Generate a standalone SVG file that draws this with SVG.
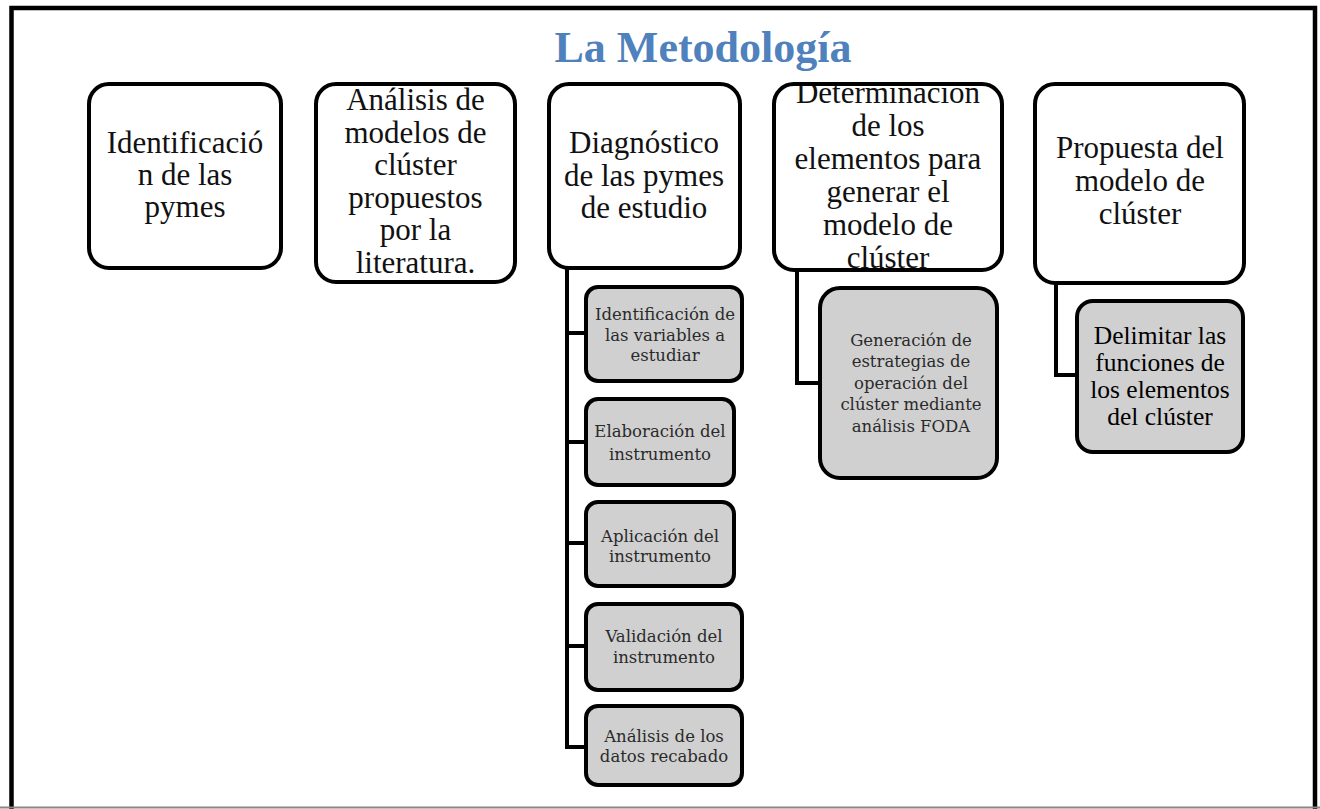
<svg xmlns="http://www.w3.org/2000/svg" width="1320" height="809" viewBox="0 0 1320 809">
<style>
.main{fill:#fff;stroke:#000;stroke-width:4}
.sub{fill:#d0d0d0;stroke:#000;stroke-width:4}
.t{font-family:"Liberation Serif","Times New Roman",serif;font-size:31px;fill:#111;text-anchor:middle}
.s{font-family:"DejaVu Serif",serif;font-size:16.5px;fill:#2a2a2a;text-anchor:middle}
.d{font-family:"Liberation Serif","Times New Roman",serif;font-size:25.5px;fill:#000;text-anchor:middle}
.c{fill:none;stroke:#000;stroke-width:4}
</style>
<defs>
<clipPath id="clip4"><rect x="776" y="86" width="224" height="182"/></clipPath>
</defs>
<rect width="1320" height="809" fill="#fff"/>
<g id="frame">
<path d="M11.5 809 V8 H1315 V809" fill="none" stroke="#000" stroke-width="4.5"/>
<line x1="0" y1="807.5" x2="1320" y2="807.5" stroke="#888" stroke-width="2"/>
</g>
<g id="title">
<text x="703" y="62" font-family="Liberation Serif, Times New Roman, serif" font-size="44" font-weight="bold" fill="#4F81BD" text-anchor="middle">La Metodología</text>
</g>
<g id="connectors">
<path class="c" d="M567 268 V747 M565 333 H586 M565 442 H586 M565 543 H586 M565 646 H586 M565 747 H586"/>
<path class="c" d="M797 270 V383 H820"/>
<path class="c" d="M1056 283 V375 H1077"/>
</g>
<g id="n1">
<rect class="main" x="89" y="84" width="192" height="184" rx="20"/>
<text class="t" x="185" y="153">Identificació</text>
<text class="t" x="185" y="185">n de las</text>
<text class="t" x="185" y="217">pymes</text>
</g>
<g id="n2">
<rect class="main" x="316" y="84" width="199" height="198" rx="20"/>
<text class="t" x="415.5" y="110">Análisis de</text>
<text class="t" x="415.5" y="142.5">modelos de</text>
<text class="t" x="415.5" y="175">clúster</text>
<text class="t" x="415.5" y="207.5">propuestos</text>
<text class="t" x="415.5" y="240">por la</text>
<text class="t" x="415.5" y="272.5">literatura.</text>
</g>
<g id="n3">
<rect class="main" x="549" y="84" width="191" height="184" rx="20"/>
<text class="t" x="644" y="153">Diagnóstico</text>
<text class="t" x="644" y="185.5">de las pymes</text>
<text class="t" x="644" y="218">de estudio</text>
</g>
<g id="n4">
<rect class="main" x="774" y="84" width="228" height="186" rx="20"/>
<g clip-path="url(#clip4)">
<text class="t" x="888" y="103">Determinación</text>
<text class="t" x="888" y="135.5">de los</text>
<text class="t" x="888" y="168.5">elementos para</text>
<text class="t" x="888" y="201.5">generar el</text>
<text class="t" x="888" y="234.5">modelo de</text>
<text class="t" x="888" y="267.5">clúster</text>
</g>
</g>
<g id="n5">
<rect class="main" x="1035" y="84" width="209" height="199" rx="20"/>
<text class="t" x="1140" y="158">Propuesta del</text>
<text class="t" x="1140" y="191">modelo de</text>
<text class="t" x="1140" y="223.5">clúster</text>
</g>
<g id="s1">
<rect class="sub" x="586" y="287" width="156" height="94" rx="12"/>
<text class="s" x="665" y="319.5">Identificación de</text>
<text class="s" x="665" y="340.5">las variables a</text>
<text class="s" x="665" y="360.5">estudiar</text>
</g>
<g id="s2">
<rect class="sub" x="586" y="399" width="148" height="86" rx="12"/>
<text class="s" x="660" y="437">Elaboración del</text>
<text class="s" x="660" y="460">instrumento</text>
</g>
<g id="s3">
<rect class="sub" x="586" y="502" width="148" height="84" rx="12"/>
<text class="s" x="660" y="541.5">Aplicación del</text>
<text class="s" x="660" y="561.5">instrumento</text>
</g>
<g id="s4">
<rect class="sub" x="586" y="604" width="156" height="86" rx="12"/>
<text class="s" x="664" y="641.5">Validación del</text>
<text class="s" x="664" y="662.5">instrumento</text>
</g>
<g id="s5">
<rect class="sub" x="586" y="706" width="156" height="79" rx="12"/>
<text class="s" x="664" y="741.5">Análisis de los</text>
<text class="s" x="664" y="761.5">datos recabado</text>
</g>
<g id="s6">
<rect class="sub" x="820" y="288" width="177" height="190" rx="20"/>
<text class="s" x="911" y="346">Generación de</text>
<text class="s" x="911" y="367">estrategias  de</text>
<text class="s" x="911" y="388.5">operación del</text>
<text class="s" x="911" y="409.5">clúster mediante</text>
<text class="s" x="911" y="432">análisis FODA</text>
</g>
<g id="s7">
<rect class="sub" x="1077" y="301" width="166" height="151" rx="16"/>
<text class="d" x="1160" y="343.5">Delimitar las</text>
<text class="d" x="1160" y="370.5">funciones de</text>
<text class="d" x="1160" y="397.5">los elementos</text>
<text class="d" x="1160" y="425">del  clúster</text>
</g>
</svg>
